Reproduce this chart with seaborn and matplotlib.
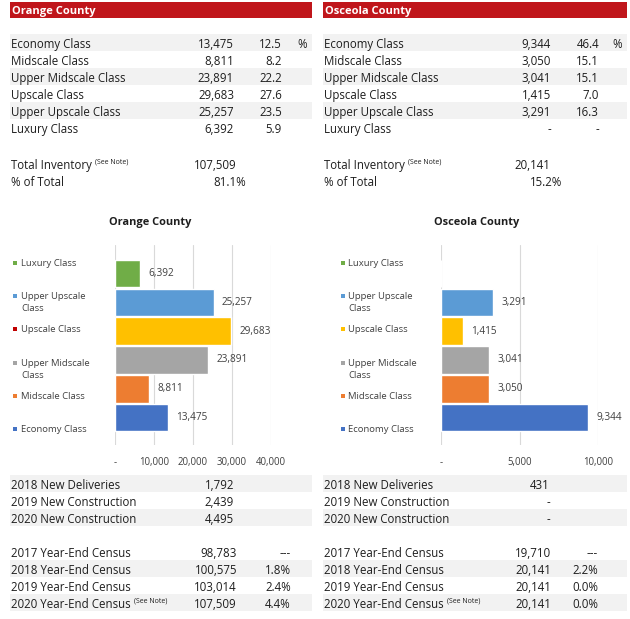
import matplotlib
matplotlib.use("Agg")
import matplotlib.pyplot as plt
from matplotlib.patches import Rectangle
import seaborn as sns
import pandas as pd

# ---------------- data ----------------
classes = ["Economy Class", "Midscale Class", "Upper Midscale Class",
           "Upscale Class", "Upper Upscale Class", "Luxury Class"]
orange_rooms = [13475, 8811, 23891, 29683, 25257, 6392]
orange_pct = [12.5, 8.2, 22.2, 27.6, 23.5, 5.9]
osceola_rooms = [9344, 3050, 3041, 1415, 3291, 0]
osceola_pct = [46.4, 15.1, 15.1, 7.0, 16.3, None]

orange_total = 107509
orange_share = "81.1%"
osceola_total = 20141
osceola_share = "15.2%"

chart_order = ["Luxury Class", "Upper Upscale Class", "Upscale Class",
               "Upper Midscale Class", "Midscale Class", "Economy Class"]
legend_labels = ["Luxury Class", "Upper Upscale\nClass", "Upscale Class",
                 "Upper Midscale\nClass", "Midscale Class", "Economy Class"]
bar_colors = {"Economy Class": "#4472C4", "Midscale Class": "#ED7D31",
              "Upper Midscale Class": "#A5A5A5", "Upscale Class": "#FFC000",
              "Upper Upscale Class": "#5B9BD5", "Luxury Class": "#70AD47"}
orange_legend_colors = {**bar_colors, "Upscale Class": "#C00000"}
osceola_legend_colors = dict(bar_colors)

orange_ticks = [0, 10000, 20000, 30000, 40000]
osceola_ticks = [0, 5000, 10000]

pipeline_labels = ["2018 New Deliveries", "2019 New Construction", "2020 New Construction"]
orange_pipeline = [1792, 2439, 4495]
osceola_pipeline = [431, 0, 0]

census_labels = ["2017 Year-End Census", "2018 Year-End Census",
                 "2019 Year-End Census", "2020 Year-End Census"]
orange_census = [98783, 100575, 103014, 107509]
orange_growth = [None, 1.8, 2.4, 4.4]
osceola_census = [19710, 20141, 20141, 20141]
osceola_growth = [None, 2.2, 0.0, 0.0]

# ---------------- setup ----------------
sns.set_theme(style="white")
plt.rcParams["font.family"] = ["Open Sans", "DejaVu Sans"]

W, H = 630, 619
fig = plt.figure(figsize=(W / 100, H / 100), dpi=100)
fig.patch.set_facecolor("white")

TXT = "#1E1E1E"
CHT = "#404040"
SHADE = "#F2F2F2"
RED = "#C0161B"
FS = 8.3


def fx(x):
    return x / W


def fy(y):
    return 1 - y / H


def txt(x, y, s, ha="left", size=FS, color=TXT, weight="normal", va="center_baseline"):
    return fig.text(fx(x), fy(y), s, ha=ha, va=va, fontsize=size,
                    color=color, fontweight=weight)


def rect(x0, x1, yc, h, color):
    fig.patches.append(Rectangle((fx(x0), fy(yc + h / 2)), (x1 - x0) / W, h / H,
                                 transform=fig.transFigure, facecolor=color,
                                 edgecolor="none", zorder=0))


def fmt_num(v):
    return "-" if v == 0 else f"{v:,}"


def fmt_pct(v):
    return "-" if v is None else f"{v:.1f}"


def fmt_growth(v):
    return "---" if v is None else f"{v:.1f}%"


renderer = fig.canvas.get_renderer()


def with_note(x, y, s):
    t = txt(x, y, s)
    bb = t.get_window_extent(renderer=renderer)
    x1 = bb.x1 * W / fig.bbox.width
    txt(x1 + 3, y - 3, "(See Note)", size=5.0)


panels = [
    dict(x0=10, x1=312, title="Orange County", lab=11, cnt=234, pct=282, pcts=297,
         rooms=orange_rooms, pcts_v=orange_pct, total=orange_total, share=orange_share,
         tot_r=237, share_r=246, pipe=orange_pipeline, pipe_r=234,
         census=orange_census, growth=orange_growth, cen_r=237, gr_r=291),
    dict(x0=323, x1=627, title="Osceola County", lab=324, cnt=551, pct=599, pcts=612,
         rooms=osceola_rooms, pcts_v=osceola_pct, total=osceola_total, share=osceola_share,
         tot_r=550, share_r=562, pipe=osceola_pipeline, pipe_r=550,
         census=osceola_census, growth=osceola_growth, cen_r=551, gr_r=598),
]

for p in panels:
    # header
    rect(p["x0"], p["x1"], 10, 16, RED)
    txt(p["x0"] + 2, 10, p["title"], color="white", weight="bold", size=8.0)
    # class table
    for i, c in enumerate(classes):
        y = 43 + 17 * i
        if i % 2 == 0:
            rect(p["x0"], p["x1"], y - 1, 17, SHADE)
        txt(p["lab"], y, c)
        txt(p["cnt"], y, fmt_num(p["rooms"][i]), ha="right")
        txt(p["pct"], y, fmt_pct(p["pcts_v"][i]), ha="right")
        if i == 0:
            txt(p["pcts"], y, "%")
    with_note(p["lab"], 164, "Total Inventory")
    txt(p["tot_r"], 164, f"{p['total']:,}", ha="right")
    txt(p["lab"], 181, "% of Total")
    txt(p["share_r"], 181, p["share"], ha="right")
    # pipeline
    for i, lbl in enumerate(pipeline_labels):
        y = 484 + 17 * i
        if i % 2 == 0:
            rect(p["x0"], p["x1"], y - 1, 17, SHADE)
        txt(p["lab"], y, lbl)
        txt(p["pipe_r"], y, fmt_num(p["pipe"][i]), ha="right")
    # census
    for i, lbl in enumerate(census_labels):
        y = 552 + 17 * i
        if i % 2 == 1:
            rect(p["x0"], p["x1"], y - 1, 17, SHADE)
        if i == 3:
            with_note(p["lab"], y, lbl)
        else:
            txt(p["lab"], y, lbl)
        txt(p["cen_r"], y, f"{p['census'][i]:,}", ha="right")
        txt(p["gr_r"], y, fmt_growth(p["growth"][i]), ha="right")

# ---------------- bar charts ----------------
charts = [
    dict(left=115, right=271, rooms=orange_rooms, ticks=orange_ticks, xmax=40000,
         title="Orange County", tx=150, leg_sq=15, leg_tx=21, leg_cols=orange_legend_colors),
    dict(left=441, right=598, rooms=osceola_rooms, ticks=osceola_ticks, xmax=10000,
         title="Osceola County", tx=477, leg_sq=343, leg_tx=348, leg_cols=osceola_legend_colors),
]

top, bottom = 245, 445
for ch in charts:
    ax = fig.add_axes([fx(ch["left"]), fy(bottom), (ch["right"] - ch["left"]) / W,
                       (bottom - top) / H])
    df = pd.DataFrame({"cls": classes, "rooms": ch["rooms"]})
    sns.barplot(data=df, y="cls", x="rooms", hue="cls", order=chart_order,
                hue_order=chart_order, palette=bar_colors, saturation=1,
                width=0.96, legend=False, ax=ax, orient="h")
    for cont in ax.containers:
        labels = [f"{v:,.0f}" if v > 0 else "" for v in cont.datavalues]
        ax.bar_label(cont, labels=labels, padding=6, fontsize=7.2, color=CHT)
    ax.set_xlim(0, ch["xmax"])
    ax.set_ylim(5.95, -0.99)
    ax.set_xticks(ch["ticks"])
    ax.set_xticklabels(["-" if t == 0 else f"{t:,}" for t in ch["ticks"]],
                       fontsize=6.9, color=CHT)
    ax.tick_params(axis="x", length=0, pad=9)
    ax.set_yticks([])
    ax.set_xlabel("")
    ax.set_ylabel("")
    for s in ax.spines.values():
        s.set_visible(False)
    ax.xaxis.grid(True, color="#D9D9D9", lw=0.8)
    ax.set_axisbelow(True)
    ax.patch.set_alpha(0)

    txt(ch["tx"], 221, ch["title"], ha="center", weight="bold", size=7.9, color="#1E1E1E")
    for i, (cat, lbl) in enumerate(zip(chart_order, legend_labels)):
        y = 263 + 33.2 * i
        fig.patches.append(Rectangle((fx(ch["leg_sq"] - 2), fy(y + 2)), 4 / W, 4 / H,
                                     transform=fig.transFigure,
                                     facecolor=ch["leg_cols"][cat], edgecolor="none"))
        fig.text(fx(ch["leg_tx"]), fy(y - 4), lbl, ha="left", va="top", fontsize=6.8,
                 color=CHT, linespacing=1.42)

fig.savefig("out.png", dpi=100, facecolor="white")
